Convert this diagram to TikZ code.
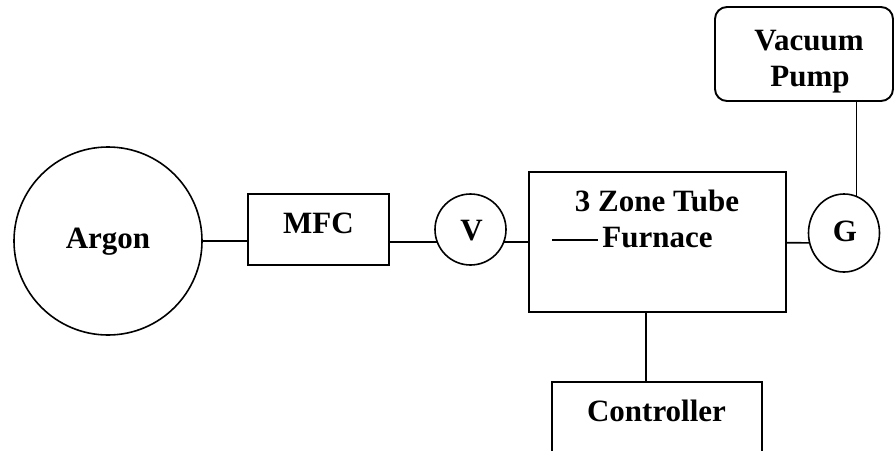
\documentclass[tikz,border=0pt]{standalone}
\usepackage{fontspec}
\setmainfont{Liberation Serif}
\usetikzlibrary{shapes.geometric}
\begin{document}
\begin{tikzpicture}[x=1pt,y=-1pt,
  every node/.style={inner sep=0pt, outer sep=0pt},
  unit/.style={draw, line width=1.6pt},
  boxunit/.style={draw, line width=1.9pt, rectangle},
  ring/.style={draw, line width=1.6pt, circle},
  pipe/.style={line width=1.6pt},
  lbl/.style={font=\bfseries\fontsize{31}{36}\selectfont, anchor=base, align=center}
]
\useasboundingbox (0,0) rectangle (896,450);
\clip (0,0) rectangle (896,450);
\fill[white] (0,0) rectangle (896,450);

% shapes
\node[ring, minimum size=188pt] (argon) at (108,241) {};
\node[boxunit, minimum width=141pt, minimum height=71pt] (mfc) at (318.5,229.5) {};
\node[ring, minimum size=71pt] (v) at (470.5,229.5) {};
\node[boxunit, minimum width=257pt, minimum height=140pt] (furn) at (657.5,242) {};
\node[unit, ellipse, minimum width=71pt, minimum height=78pt] (g) at (844,233) {};
\node[boxunit, rounded corners=12pt, minimum width=178pt, minimum height=94pt] (vp) at (804,54) {};
\node[boxunit, minimum width=210pt, minimum height=100pt] (ctrl) at (657,432) {};

% labels
\node[lbl] (targon) at (108,248) {Argon};
\node[lbl] (tmfc) at (318.5,233) {MFC};
\node[lbl] (tv) at (471.5,240.7) {V};
\node[lbl] (tfurn1) at (657,211) {3 Zone Tube};
\node[lbl] (tfurn2) at (657.5,247) {Furnace};
\node[lbl] (tg) at (845,241.7) {G};
\node[lbl] (tvp1) at (809,50) {Vacuum};
\node[lbl] (tvp2) at (810,86) {Pump};
\node[lbl] (tctrl) at (656.5,421.5) {Controller};

% connectors
\draw[pipe] (argon.east) -- (argon.east -| mfc.west);
\draw[pipe] (mfc.east |- v.201) -- (v.201);
\draw[pipe] (v.-21) -- (v.-21 -| furn.west);
\draw[pipe] ([yshift=-0.7pt]furn.east) -- (g.196);
\draw[pipe] (g.71) -- (g.71 |- vp.south);
\draw[pipe] ([xshift=-11.5pt]furn.south) -- ([xshift=-11.5pt]furn.south |- ctrl.north);
\coordinate (stubA) at ([shift={(23pt,2pt)}]furn.west);
\coordinate (stubB) at ([shift={(69pt,2pt)}]furn.west);
\draw[pipe] (stubA) -- (stubB);
\end{tikzpicture}
\end{document}
